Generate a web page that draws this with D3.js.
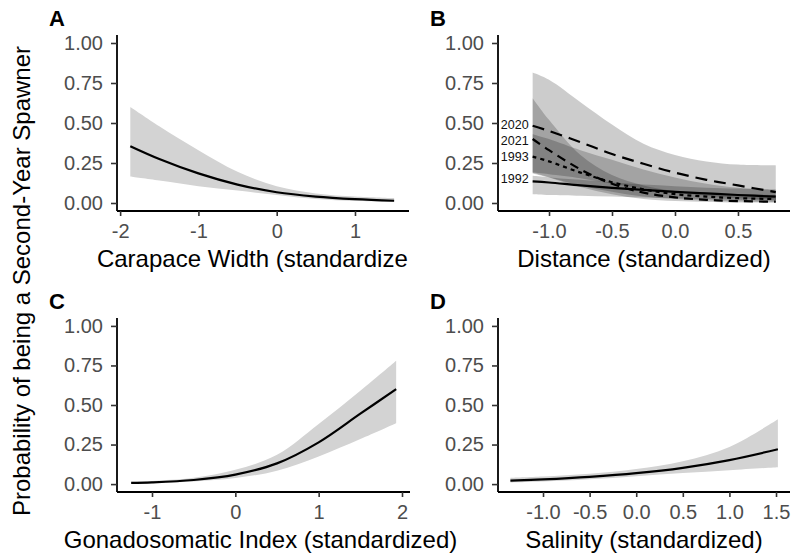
<!DOCTYPE html>
<html><head><meta charset="utf-8">
<script src="https://cdn.jsdelivr.net/npm/d3@7"></script>
<style>
body{margin:0;background:#fff;}
svg{display:block;font-family:"Liberation Sans",Arial,Helvetica,sans-serif;}
</style></head>
<body><svg id="c" width="793" height="556"></svg>
<script>
// ---------- Data ----------
// Panel A: Carapace width
const aX     = [-1.87, -1.5, -1.0, -0.5, 0.0, 0.5, 1.0, 1.5];
const aFit   = [0.355, 0.275, 0.185, 0.115, 0.067, 0.040, 0.024, 0.014];
const aUpper = [0.60, 0.48, 0.33, 0.195, 0.105, 0.06, 0.04, 0.03];
const aLower = [0.165, 0.14, 0.105, 0.078, 0.05, 0.025, 0.012, 0.006];

// Panel B: Distance, by year
const bX = [-1.13, -1.0, -0.75, -0.5, -0.25, 0.0, 0.25, 0.5, 0.8];
const bYears = ["2020", "2021", "1993", "1992"];
const bFit2020 = [0.483, 0.45, 0.38, 0.306, 0.245, 0.19, 0.145, 0.11, 0.068];
const bUp2020  = [0.815, 0.77, 0.63, 0.49, 0.37, 0.30, 0.26, 0.24, 0.235];
const bLo2020  = [0.19, 0.18, 0.155, 0.12, 0.09, 0.065, 0.045, 0.03, 0.02];
const bFit2021 = [0.40, 0.33, 0.21, 0.12, 0.065, 0.035, 0.02, 0.012, 0.008];
const bUp2021  = [0.655, 0.52, 0.30, 0.175, 0.11, 0.075, 0.06, 0.055, 0.05];
const bLo2021  = [0.19, 0.16, 0.10, 0.055, 0.025, 0.012, 0.006, 0.003, 0.002];
const bFit1993 = [0.29, 0.26, 0.19, 0.13, 0.085, 0.055, 0.04, 0.03, 0.025];
const bUp1993  = [0.43, 0.40, 0.33, 0.27, 0.21, 0.16, 0.12, 0.095, 0.08];
const bLo1993  = [0.185, 0.16, 0.11, 0.07, 0.04, 0.025, 0.015, 0.01, 0.006];
const bFit1992 = [0.135, 0.128, 0.11, 0.095, 0.082, 0.07, 0.06, 0.05, 0.04];
const bUp1992  = [0.17, 0.16, 0.145, 0.13, 0.115, 0.105, 0.095, 0.09, 0.085];
const bLo1992  = [0.055, 0.05, 0.045, 0.04, 0.035, 0.03, 0.025, 0.02, 0.015];

// Panel C: Gonadosomatic index
const cX     = [-1.25, -1.0, -0.5, 0.0, 0.5, 1.0, 1.5, 1.93];
const cFit   = [0.008, 0.011, 0.026, 0.060, 0.131, 0.264, 0.445, 0.60];
const cUpper = [0.015, 0.02, 0.04, 0.09, 0.185, 0.38, 0.59, 0.78];
const cLower = [0.004, 0.006, 0.017, 0.038, 0.085, 0.175, 0.285, 0.385];

// Panel D: Salinity
const dX     = [-1.35, -1.0, -0.5, 0.0, 0.5, 1.0, 1.52];
const dFit   = [0.022, 0.030, 0.046, 0.069, 0.103, 0.152, 0.22];
const dUpper = [0.04, 0.048, 0.065, 0.095, 0.145, 0.235, 0.41];
const dLower = [0.01, 0.016, 0.03, 0.05, 0.07, 0.088, 0.107];

// Tick labels
const yTicks = [0, 0.25, 0.5, 0.75, 1];
const aTicks = [-2, -1, 0, 1];
const bTicks = [-1.0, -0.5, 0.0, 0.5];
const cTicks = [-1, 0, 1, 2];
const dTicks = [-1.0, -0.5, 0.0, 0.5, 1.0, 1.5];

const xTitles = ["Carapace Width (standardized)", "Distance (standardized)",
                 "Gonadosomatic Index (standardized)", "Salinity (standardized)"];
const panelLetters = ["A", "B", "C", "D"];
const yTitle = "Probability of being a Second-Year Spawner";

// ---------- Layout ----------
const svg = d3.select("#c");
const panels = [
  {letter:panelLetters[0], title:xTitles[0], l:117, r:409, t:35, b:211, dom:[-2.04,1.69], ticks:aTicks, fmt:d3.format("d"), clip:true, tdx:0},
  {letter:panelLetters[1], title:xTitles[1], l:498, r:790, t:35, b:211, dom:[-1.405,0.913], ticks:bTicks, fmt:d3.format(".1f"), tdx:0},
  {letter:panelLetters[2], title:xTitles[2], l:117, r:410, t:318, b:492, dom:[-1.42,2.096], ticks:cTicks, fmt:d3.format("d"), tdx:-3},
  {letter:panelLetters[3], title:xTitles[3], l:498, r:790, t:318, b:492, dom:[-1.483,1.65], ticks:dTicks, fmt:d3.format(".1f"), tdx:0}
];
const fmtMinus = f => (v => f(v).replace("−","-"));

const defs = svg.append("defs");
defs.append("clipPath").attr("id","clipA").append("rect")
  .attr("x",0).attr("y",0).attr("width",408).attr("height",300);

panels.forEach(p => {
  p.x = d3.scaleLinear().domain(p.dom).range([p.l,p.r]);
  p.y = d3.scaleLinear().domain([-0.05,1.05]).range([p.b,p.t]);
  p.g = svg.append("g");
});

const curve = d3.curveCatmullRom.alpha(0.5);
function ribbon(p, xs, lo, hi, fill, op){
  const data = xs.map((x,i)=>({x, lo:lo[i], hi:hi[i]}));
  p.g.append("path").datum(data)
    .attr("d", d3.area().x(d=>p.x(d.x)).y0(d=>p.y(d.lo)).y1(d=>p.y(d.hi)).curve(curve))
    .attr("fill", fill).attr("fill-opacity", op).attr("stroke","none");
}
function line(p, xs, ys, dash){
  const data = xs.map((x,i)=>({x, y:ys[i]}));
  p.g.append("path").datum(data)
    .attr("d", d3.line().x(d=>p.x(d.x)).y(d=>p.y(d.y)).curve(curve))
    .attr("fill","none").attr("stroke","#000").attr("stroke-width",2.2)
    .attr("stroke-dasharray", dash || null);
}

// Panel A
ribbon(panels[0], aX, aLower, aUpper, "#D3D3D3", 1);
line(panels[0], aX, aFit);
// Panel B
const bp = panels[1];
ribbon(bp, bX, bLo2020, bUp2020, "#000", 0.2);
ribbon(bp, bX, bLo2021, bUp2021, "#000", 0.2);
ribbon(bp, bX, bLo1993, bUp1993, "#000", 0.2);
ribbon(bp, bX, bLo1992, bUp1992, "#000", 0.2);
line(bp, bX, bFit2020, "12,7");
line(bp, bX, bFit2021, "9,6");
line(bp, bX, bFit1993, "4,4");
line(bp, bX, bFit1992);
const labelY = [125, 141, 157, 179];
bYears.forEach((yr,i)=>{
  bp.g.append("text").attr("x", bp.x(bX[0]) - 4).attr("y", labelY[i])
    .attr("dy","0.35em").attr("text-anchor","end")
    .attr("font-size",12.5).attr("fill","#111").text(yr);
});
// Panel C
ribbon(panels[2], cX, cLower, cUpper, "#D3D3D3", 1);
line(panels[2], cX, cFit);
// Panel D
ribbon(panels[3], dX, dLower, dUpper, "#D3D3D3", 1);
line(panels[3], dX, dFit);

// Axes
panels.forEach(p => {
  const ax = p.g.append("g").attr("transform",`translate(0,${p.b})`)
    .call(d3.axisBottom(p.x).tickValues(p.ticks).tickFormat(fmtMinus(p.fmt)).tickSize(5).tickPadding(8));
  const ay = p.g.append("g").attr("transform",`translate(${p.l},0)`)
    .call(d3.axisLeft(p.y).tickValues(yTicks).tickFormat(d3.format(".2f")).tickSize(6).tickPadding(8));
  [ax, ay].forEach(a => {
    a.select(".domain").attr("stroke","#000").attr("stroke-width",1.8);
    a.selectAll(".tick line").attr("stroke","#333").attr("stroke-width",1.6);
    a.selectAll(".tick text").attr("fill","#4D4D4D").attr("font-size",20)
      .attr("font-family","'Liberation Sans',Arial,sans-serif");
  });
  ax.select(".domain").attr("d", `M${p.l},0H${p.r}`);
  ay.select(".domain").attr("d", `M0,${p.t}V${p.b}`);

  const tt = p.g.append("text").attr("x",(p.l+p.r)/2 + p.tdx).attr("y",p.b+56)
    .attr("text-anchor","middle").attr("font-size",24).attr("fill","#000").text(p.title);
  if (p.clip) tt.attr("clip-path","url(#clipA)");

  p.g.append("text").attr("x",p.l-68).attr("y",p.t-9)
    .attr("font-size",22).attr("font-weight","bold").attr("fill","#000").text(p.letter);
});

// Shared y title
svg.append("text").attr("transform","translate(30,281) rotate(-90)")
  .attr("text-anchor","middle").attr("font-size",24).attr("fill","#000").text(yTitle);
</script>
</body></html>
